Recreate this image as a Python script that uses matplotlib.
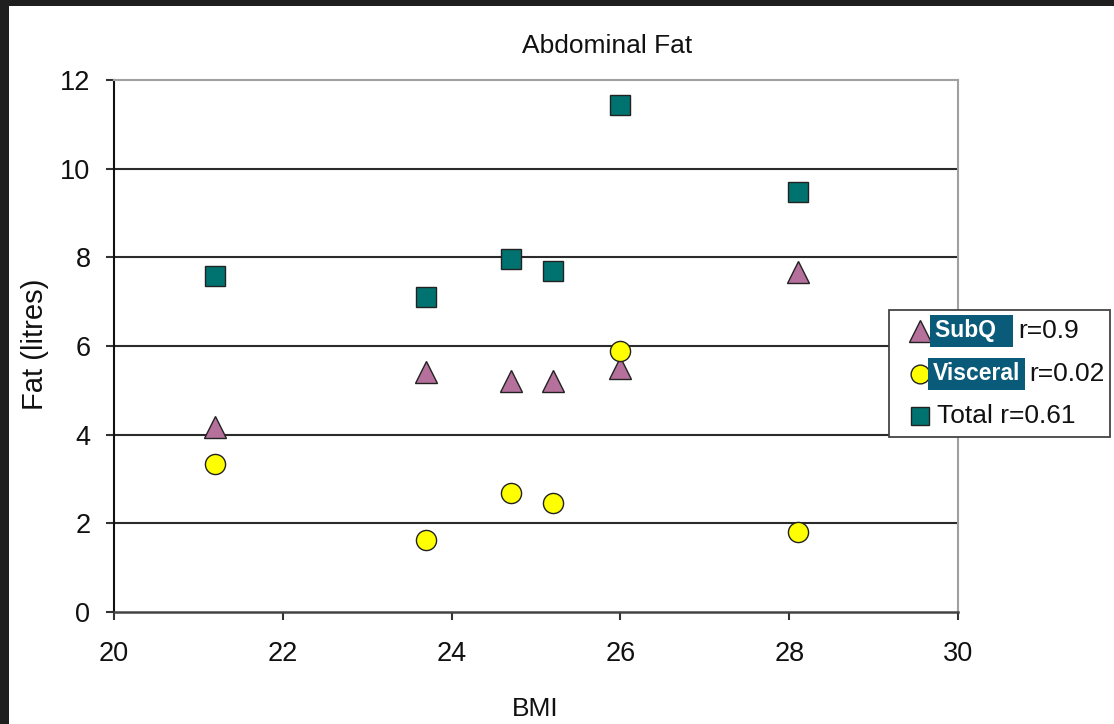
import matplotlib.pyplot as plt
from matplotlib.patches import Rectangle
from matplotlib.lines import Line2D

plt.rcParams['font.family'] = ['Liberation Sans', 'DejaVu Sans']

# data
bmi = [21.2, 23.7, 24.7, 25.2, 26.0, 28.1]
subq = [4.17, 5.41, 5.21, 5.21, 5.50, 7.67]
visceral = [3.34, 1.62, 2.68, 2.46, 5.89, 1.80]
total = [7.58, 7.10, 7.96, 7.69, 11.44, 9.47]

series_names = ['SubQ', 'Visceral', 'Total']
r_labels = ['r=0.9', 'r=0.02', 'r=0.61']

W, H = 1114, 724
fig = plt.figure(figsize=(W / 100, H / 100), dpi=100)
fig.patch.set_facecolor('#1f1f1f')


def fx(px):
    return px / W


def fy(py):
    return 1 - py / H


# white slide panel
fig.add_artist(Rectangle((fx(9), 0), 1 - fx(9), fy(6), transform=fig.transFigure,
                         facecolor='white', edgecolor='none', zorder=0))

ax = fig.add_axes([fx(114), fy(612), fx(958) - fx(114), fy(80) - fy(612)])
ax.set_facecolor('white')

tri_c, circ_c, sq_c = '#b5719b', '#ffff00', '#007370'
ax.plot(bmi, subq, linestyle='none', marker='^', ms=16.5, mfc=tri_c, mec='#222222', mew=1.0, zorder=3)
ax.plot(bmi, visceral, linestyle='none', marker='o', ms=14.5, mfc=circ_c, mec='#222222', mew=1.0, zorder=3)
ax.plot(bmi, total, linestyle='none', marker='s', ms=14, mfc=sq_c, mec='#222222', mew=1.0, zorder=3)

ax.set_xlim(20, 30)
ax.set_ylim(0, 12)
ax.set_xticks(range(20, 31, 2))
ax.set_yticks(range(0, 13, 2))
for yv in range(2, 12, 2):
    ax.axhline(yv, color='#2b2b2b', lw=1.5, zorder=1)

ax.spines['top'].set_color('#a0a0a0')
ax.spines['right'].set_color('#a0a0a0')
ax.spines['top'].set_linewidth(1.5)
ax.spines['right'].set_linewidth(1.5)
ax.spines['left'].set_color('#111111')
ax.spines['bottom'].set_color('#444444')
ax.spines['left'].set_linewidth(1.5)
ax.spines['bottom'].set_linewidth(1.8)
ax.tick_params(axis='both', direction='out', length=6, width=1.5, color='#333333',
               labelsize=19.5, labelcolor='#111111')
ax.tick_params(axis='x', pad=15)
ax.tick_params(axis='y', pad=11)

fig.text(fx(607), fy(46), 'Abdominal Fat', ha='center', va='center', fontsize=19, color='#111111')
fig.text(fx(535), fy(709), 'BMI', ha='center', va='center', fontsize=19, color='#111111')
fig.text(fx(35), fy(344), 'Fat (litres)', ha='center', va='center', rotation=90, fontsize=21, color='#111111')

# legend box drawn by hand to keep the highlighted names
fig.add_artist(Rectangle((fx(889), fy(437)), fx(1110) - fx(889), fy(310) - fy(437),
                         transform=fig.transFigure, facecolor='white', edgecolor='#444444',
                         lw=1.3, zorder=4))
rows = [331, 374, 416]
markers = [('^', 16, tri_c), ('o', 13.5, circ_c), ('s', 13, sq_c)]
for (m, ms, c), py in zip(markers, rows):
    fig.add_artist(Line2D([fx(920)], [fy(py)], marker=m, ms=ms, mfc=c, mec='#222222',
                          mew=1.0, linestyle='none', transform=fig.transFigure, zorder=5))

hl = '#0a5a7a'
fig.text(fx(935), fy(rows[0]), series_names[0] + '  ', ha='left', va='center', fontsize=16.5,
         fontweight='bold', color='white', zorder=6,
         bbox=dict(boxstyle='square,pad=0.2', facecolor=hl, edgecolor='none'))
fig.text(fx(1018), fy(rows[0]), r_labels[0], ha='left', va='center', fontsize=19, color='#111111', zorder=6)
fig.text(fx(933), fy(rows[1]), series_names[1], ha='left', va='center', fontsize=16.5,
         fontweight='bold', color='white', zorder=6,
         bbox=dict(boxstyle='square,pad=0.2', facecolor=hl, edgecolor='none'))
fig.text(fx(1029), fy(rows[1]), r_labels[1], ha='left', va='center', fontsize=19, color='#111111', zorder=6)
fig.text(fx(937), fy(rows[2]), series_names[2] + ' ' + r_labels[2], ha='left', va='center',
         fontsize=19, color='#111111', zorder=6)

fig.savefig('out.png', dpi=100, facecolor=fig.get_facecolor())
